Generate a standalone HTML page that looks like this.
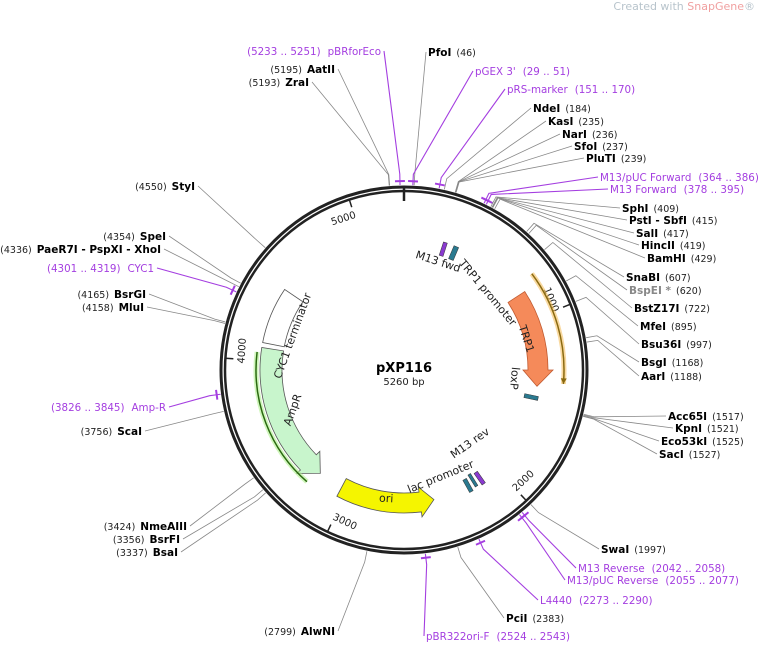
<!DOCTYPE html>
<html><head><meta charset="utf-8"><style>
body{margin:0;background:#fff}
svg{display:block;font-family:"DejaVu Sans","Liberation Sans",sans-serif}
.b{font-weight:bold;fill:#000;font-size:10.5px}
.n{fill:#222;font-size:9.5px}
.p{fill:#a43ee0;font-size:10.3px}
</style></head><body>
<svg id="s" width="760" height="645" viewBox="0 0 760 645" xmlns="http://www.w3.org/2000/svg">
<text x="755" y="10" text-anchor="end" font-size="11" fill="#b8c4cc">Created with <tspan fill="#f0a0a0">SnapGene</tspan>®</text>
<g id="lines"></g>
<circle cx="404" cy="370" r="183" fill="none" stroke="#222" stroke-width="3"/>
<circle cx="404" cy="370" r="179" fill="none" stroke="#222" stroke-width="2.5"/>
<line x1="404" y1="186" x2="404" y2="201" stroke="#222" stroke-width="2.5"/>
<g id="feat"></g>
<g id="labs"></g>
<text x="404" y="372" text-anchor="middle" font-weight="bold" font-size="13">pXP116</text>
<text x="404" y="385" text-anchor="middle" font-size="10" fill="#222">5260 bp</text>
</svg>
<script>
const CX=404,CY=370,N=5260,NS="http://www.w3.org/2000/svg";
function pt(a,r){const t=a*Math.PI/180;return [CX+r*Math.sin(t),CY-r*Math.cos(t)];}
function ang(p){return p/N*360;}
function el(par,tag,at,txt){const e=document.createElementNS(NS,tag);for(const k in at)e.setAttribute(k,at[k]);if(txt!==undefined)e.textContent=txt;document.getElementById(par).appendChild(e);return e;}
const L=[
[46,428,56,'s','PfoI','(46)','b'],
[40,475,75,'s',"pGEX 3'",'(29 .. 51)','p'],
[160,507,93,'s','pRS-marker','(151 .. 170)','p'],
[184,533,112,'s','NdeI','(184)','b'],
[235,548,125,'s','KasI','(235)','b'],
[236,562,138,'s','NarI','(236)','b'],
[237,574,150,'s','SfoI','(237)','b'],
[239,586,162,'s','PluTI','(239)','b'],
[375,600,181,'s','M13/pUC Forward','(364 .. 386)','p'],
[386,610,193,'s','M13 Forward','(378 .. 395)','p'],
[409,622,212,'s','SphI','(409)','b'],
[415,629,224,'s','PstI - SbfI','(415)','b'],
[417,636,237,'s','SalI','(417)','b'],
[419,641,249,'s','HincII','(419)','b'],
[429,647,262,'s','BamHI','(429)','b'],
[607,626,281,'s','SnaBI','(607)','b'],
[620,629,294,'s','BspEI *','(620)','g'],
[722,634,312,'s','BstZ17I','(722)','b'],
[895,640,330,'s','MfeI','(895)','b'],
[997,641,348,'s','Bsu36I','(997)','b'],
[1168,641,366,'s','BsgI','(1168)','b'],
[1188,641,380,'s','AarI','(1188)','b'],
[1517,668,420,'s','Acc65I','(1517)','b'],
[1521,675,432,'s','KpnI','(1521)','b'],
[1525,661,445,'s','Eco53kI','(1525)','b'],
[1527,659,458,'s','SacI','(1527)','b'],
[1997,601,553,'s','SwaI','(1997)','b'],
[2050,578,572,'s','M13 Reverse','(2042 .. 2058)','p'],
[2066,567,584,'s','M13/pUC Reverse','(2055 .. 2077)','p'],
[2281,540,604,'s','L4440','(2273 .. 2290)','p'],
[2383,506,622,'s','PciI','(2383)','b'],
[2533,426,640,'s','pBR322ori-F','(2524 .. 2543)','p'],
[5242,381,55,'e','pBRforEco','(5233 .. 5251)','p'],
[5195,335,73,'e','AatII','(5195)','b'],
[5193,309,86,'e','ZraI','(5193)','b'],
[4550,195,190,'e','StyI','(4550)','b'],
[4354,166,240,'e','SpeI','(4354)','b'],
[4336,161,253,'e','PaeR7I - PspXI - XhoI','(4336)','b'],
[4310,154,272,'e','CYC1','(4301 .. 4319)','p'],
[4165,146,298,'e','BsrGI','(4165)','b'],
[4158,144,311,'e','MluI','(4158)','b'],
[3835,166,411,'e','Amp-R','(3826 .. 3845)','p'],
[3756,142,435,'e','ScaI','(3756)','b'],
[3424,187,530,'e','NmeAIII','(3424)','b'],
[3356,180,543,'e','BsrFI','(3356)','b'],
[3337,178,556,'e','BsaI','(3337)','b'],
[2799,335,635,'e','AlwNI','(2799)','b']];
for(const [p,x,y,a,nm,num,t] of L){
  const A=ang(p),c=pt(A,185),m=pt(A,196);
  const col=t=='p'?'#a43ee0':'#888';
  const lx=a=='s'?x-2:x+3, ly=y-4;
  el('lines','polyline',{points:`${c[0]},${c[1]} ${m[0]},${m[1]} ${lx},${ly}`,fill:'none',stroke:col,'stroke-width':t=='p'?1.1:0.8});
  if(t=='p'){const q1=pt(A-1.5,189),q2=pt(A+1.5,189);el('lines','line',{x1:q1[0],y1:q1[1],x2:q2[0],y2:q2[1],stroke:col,'stroke-width':2});}
  const tx=el('labs','text',{x:x,y:y,'text-anchor':a=='s'?'start':'end'});
  const cls=t=='p'?'p':(t=='g'?'n':'b');
  const s1=document.createElementNS(NS,'tspan');s1.setAttribute('class',cls);if(t=='g')s1.setAttribute('style','fill:#888;font-weight:bold;font-size:10.5px');s1.textContent=nm;
  const s2=document.createElementNS(NS,'tspan');s2.setAttribute('class',t=='p'?'p':'n');s2.textContent=num;
  s2.setAttribute('dx',t=='p'?7:5);s1.setAttribute('dx',0);
  if(a=='s'){tx.appendChild(s1);tx.appendChild(s2);}
  else{s1.setAttribute('dx',t=='p'?7:5);s2.setAttribute('dx',0);tx.appendChild(s2);tx.appendChild(s1);}
}
for(const k of [1000,2000,3000,4000,5000]){const A=ang(k),a=pt(A,179),b=pt(A,171);
 el('feat','line',{x1:a[0],y1:a[1],x2:b[0],y2:b[1],stroke:'#222','stroke-width':1.5});
 const t=pt(A+ (k==4000?3:-4),163);let rot=A;if(A>90&&A<270)rot=A-180;
 el('feat','text',{x:t[0],y:t[1],'font-size':10,fill:'#222','text-anchor':'middle','dominant-baseline':'middle',transform:`rotate(${rot} ${t[0]} ${t[1]})`},String(k));}
function arrow(a1,a2,r,w,fill,stroke,head){
 const dir=a2>a1?1:-1, hl=head, ab=a2-dir*hl;
 const ro=r+w/2,ri=r-w/2;
 const p1=pt(a1,ro),p2=pt(ab,ro),p3=pt(ab,ro+5),p4=pt(a2,r),p5=pt(ab,ri-5),p6=pt(ab,ri),p7=pt(a1,ri);
 const sw=dir>0?1:0, la=Math.abs(ab-a1)>180?1:0;
 const d=`M${p1} A${ro},${ro} 0 ${la} ${sw} ${p2} L${p3} L${p4} L${p5} L${p6} A${ri},${ri} 0 ${la} ${1-sw} ${p7} Z`;
 el('feat','path',{d:d,fill:fill,stroke:stroke,'stroke-width':0.8});
}
function arcLine(a1,a2,r,col,w,glow){const p1=pt(a1,r),p2=pt(a2,r),sw=a2>a1?1:0;
 if(glow)el('feat','path',{d:`M${p1} A${r},${r} 0 0 ${sw} ${p2}`,fill:'none',stroke:glow,'stroke-width':5,opacity:0.6});
 el('feat','path',{d:`M${p1} A${r},${r} 0 0 ${sw} ${p2}`,fill:'none',stroke:col,'stroke-width':w});}
arrow(57,97,134,20,'#f58a5a','#c05a30',7);
arcLine(53,95,160,'#8a6a10',1.5,'#f5c060');
const t2=pt(95,160),t3=pt(93,157),t4=pt(93,163);el('feat','path',{d:`M${t2} L${t3} L${t4}Z`,fill:'#8a6a10'});
arrow(279,219,133,22,'#c8f5cc','#555',7);
(function(){const a1=281,a2=304,ro=144,ri=122,p1=pt(a1,ro),p2=pt(a2,ro),p3=pt(a2,ri),p4=pt(a1,ri);
 el('feat','path',{d:`M${p1} A${ro},${ro} 0 0 1 ${p2} L${p3} A${ri},${ri} 0 0 0 ${p4}Z`,fill:'#fff',stroke:'#555','stroke-width':0.8});})();
arcLine(277,221,148,'#2a6a10',1.5,'#b0f090');
arrow(208,167,133,20,'#f5f500','#555',6);
function box(a,r,len,w,fill){const p=pt(a,r);el('feat','rect',{x:p[0]-len/2,y:p[1]-w/2,width:len,height:w,fill:fill,stroke:'#333','stroke-width':0.5,transform:`rotate(${a} ${p[0]} ${p[1]})`});}
box(18,127,4,14,'#8a3ad0');box(23,127,5,14,'#2a7a90');
box(102,130,4,14,'#2a7a90');
box(145,132,4,14,'#8a3ad0');box(148,130,3,14,'#2a7a90');box(151,132,4,14,'#2a7a90');
function tl(x,y,r,s,sz){el('feat','text',{x:x,y:y,'font-size':sz||11,fill:'#222','text-anchor':'middle',transform:`rotate(${r} ${x} ${y})`},s);}
tl(437,265,18,'M13 fwd');tl(485,295,50,'TRP1 promoter');tl(523,340,72,'TRP1');tl(511,378,95,'loxP');
tl(472,446,-35,'M13 rev');tl(442,480,-22,'lac promoter');tl(386,502,3,'ori');
tl(296,337,-70,'CYC1 terminator');tl(296,411,-70,'AmpR');
</script>
</body></html>
